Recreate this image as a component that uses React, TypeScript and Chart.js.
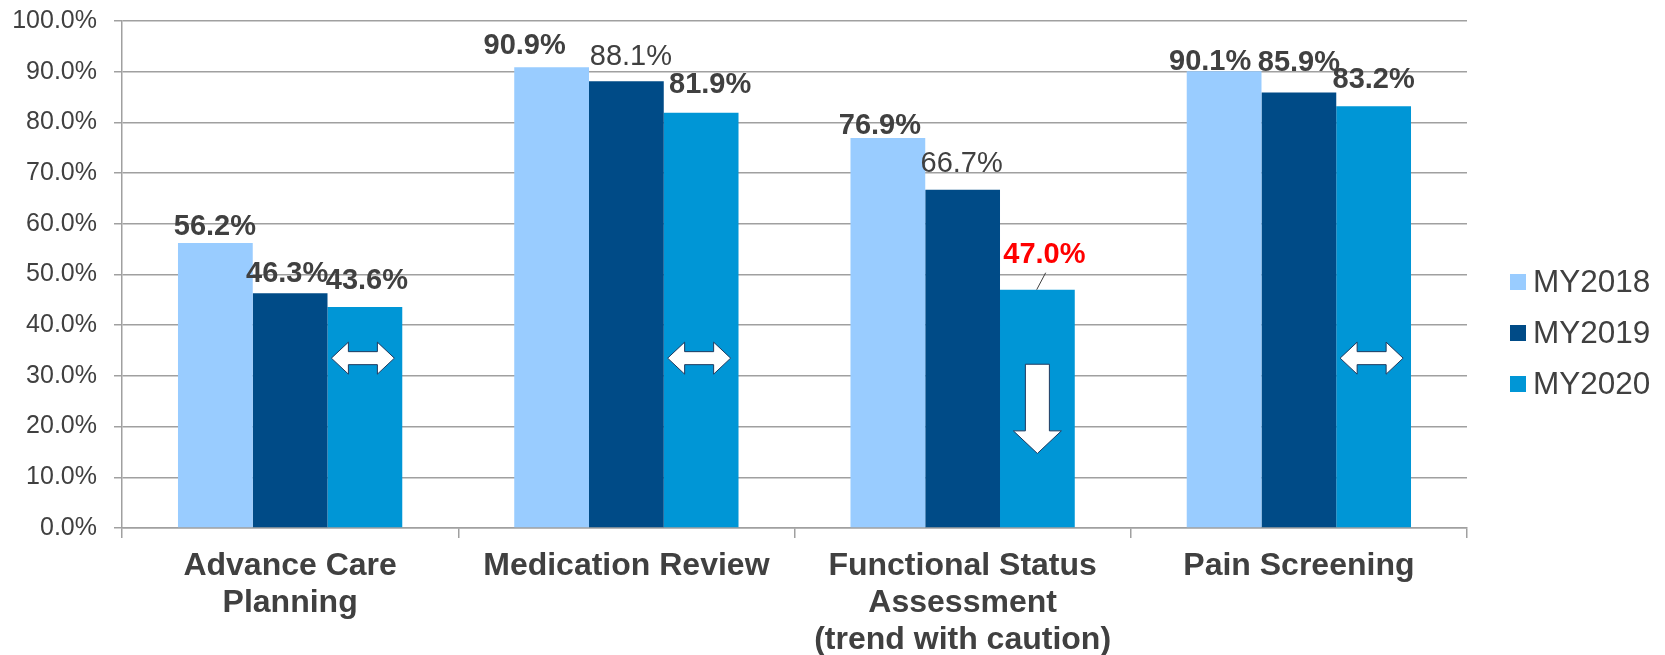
import React, { useEffect, useRef } from 'react';
import { Chart, registerables } from 'chart.js';

Chart.register(...registerables);

// ---- data ----
const categories: string[][] = [
  ['Advance Care', 'Planning'],
  ['Medication Review'],
  ['Functional Status', 'Assessment', '(trend with caution)'],
  ['Pain Screening'],
];
const seriesNames = ['MY2018', 'MY2019', 'MY2020'];
const my2018 = [56.2, 90.9, 76.9, 90.1];
const my2019 = [46.3, 88.1, 66.7, 85.9];
const my2020 = [43.6, 81.9, 47.0, 83.2];
// trend marker shown on the MY2020 bar of each category
const trendMarkers = ['both', 'both', 'down', 'both'];
const yMin = 0;
const yMax = 100;
const yStep = 10;

// ---- styles ----
const FONT = "'Liberation Sans', Arial, Helvetica, sans-serif";
const TEXT = '#404040';
const GRID = '#A0A0A0';
const COLORS = ['#99CCFF', '#004B87', '#0096D6'];
const ARROW_STROKE = '#1F3A5F';

// label placement tweaks (dx, dy above bar top) per dataset/category
const LABEL_OFFSETS: number[][][] = [
  [[-0.5, 8.4], [-27, 12.7], [-8, 4], [-14, 1]],
  [[-3, 11], [4.5, 16.7], [-1, 17.6], [0, 21.6]],
  [[2, 18.4], [9, 19.3], [7, 27], [0, 17.7]],
];
const LABEL_REGULAR: string[] = ['1-1', '1-2'];
const LABEL_RED: string[] = ['2-2'];
const LEADER: string[] = ['2-2'];

const labelsPlugin = {
  id: 'customLabels',
  afterDatasetsDraw(chart: any) {
    const ctx = chart.ctx;
    const y = chart.scales.y;
    ctx.save();
    // trend arrows on MY2020 bars
    const meta2 = chart.getDatasetMeta(2);
    meta2.data.forEach((bar: any, i: number) => {
      const kind = trendMarkers[i];
      ctx.beginPath();
      if (kind === 'both') {
        const cx = bar.x - 2;
        const cy = y.getPixelForValue(33.5);
        const W = 63, hl = 17, hh = 16, sh = 6.5;
        const l = cx - W / 2, r = cx + W / 2;
        ctx.moveTo(l, cy);
        ctx.lineTo(l + hl, cy - hh);
        ctx.lineTo(l + hl, cy - sh);
        ctx.lineTo(r - hl, cy - sh);
        ctx.lineTo(r - hl, cy - hh);
        ctx.lineTo(r, cy);
        ctx.lineTo(r - hl, cy + hh);
        ctx.lineTo(r - hl, cy + sh);
        ctx.lineTo(l + hl, cy + sh);
        ctx.lineTo(l + hl, cy + hh);
        ctx.closePath();
      } else if (kind === 'down') {
        const cx = bar.x;
        const top = y.getPixelForValue(32.3);
        const tip = y.getPixelForValue(14.7);
        const sw = 12, hw = 24, hl = 22.6;
        ctx.moveTo(cx - sw, top);
        ctx.lineTo(cx + sw, top);
        ctx.lineTo(cx + sw, tip - hl);
        ctx.lineTo(cx + hw, tip - hl);
        ctx.lineTo(cx, tip);
        ctx.lineTo(cx - hw, tip - hl);
        ctx.lineTo(cx - sw, tip - hl);
        ctx.closePath();
      }
      ctx.fillStyle = '#FFFFFF';
      ctx.fill();
      ctx.strokeStyle = ARROW_STROKE;
      ctx.lineWidth = 1;
      ctx.stroke();
    });

    // value labels
    ctx.textAlign = 'center';
    ctx.textBaseline = 'alphabetic';
    chart.data.datasets.forEach((ds: any, di: number) => {
      const meta = chart.getDatasetMeta(di);
      meta.data.forEach((bar: any, i: number) => {
        const key = di + '-' + i;
        const [dx, dy] = LABEL_OFFSETS[di][i];
        const bold = LABEL_REGULAR.indexOf(key) < 0;
        ctx.font = (bold ? 'bold ' : '') + '29px ' + FONT;
        ctx.fillStyle = LABEL_RED.indexOf(key) >= 0 ? '#FF0000' : TEXT;
        const v = ds.data[i] as number;
        ctx.fillText(v.toFixed(1) + '%', bar.x + dx, bar.y - dy);
        if (LEADER.indexOf(key) >= 0) {
          ctx.beginPath();
          ctx.moveTo(bar.x + dx + 1.3, bar.y - dy + 10);
          ctx.lineTo(bar.x - 0.7, bar.y);
          ctx.strokeStyle = TEXT;
          ctx.lineWidth = 1;
          ctx.stroke();
        }
      });
    });
    ctx.restore();
  },
  afterDraw(chart: any) {
    // legend
    const ctx = chart.ctx;
    ctx.save();
    const x0 = chart.chartArea.right + 43;
    const yc = [282, 333, 384];
    chart.data.datasets.forEach((ds: any, i: number) => {
      ctx.fillStyle = ds.backgroundColor;
      ctx.fillRect(x0, yc[i] - 8, 16, 16);
      ctx.fillStyle = TEXT;
      ctx.font = '31.5px ' + FONT;
      ctx.textAlign = 'left';
      ctx.textBaseline = 'middle';
      ctx.fillText(ds.label, x0 + 23, yc[i] + 1);
    });
    ctx.restore();
  },
};

export default function App() {
  const ref = useRef<HTMLCanvasElement | null>(null);
  useEffect(() => {
    if (!ref.current) return;
    const chart = new Chart(ref.current, {
      type: 'bar',
      data: {
        labels: categories,
        datasets: [my2018, my2019, my2020].map((d, i) => ({
          label: seriesNames[i],
          data: d,
          backgroundColor: COLORS[i],
          borderWidth: 0,
          categoryPercentage: 0.667,
          barPercentage: 1,
        })),
      },
      options: {
        animation: false,
        responsive: false,
        devicePixelRatio: 1,
        layout: { padding: { left: 0, top: 21, right: 198, bottom: 0 } },
        plugins: {
          legend: { display: false },
          tooltip: { enabled: false },
        },
        scales: {
          x: {
            grid: {
              display: true,
              drawOnChartArea: false,
              drawTicks: true,
              tickLength: 10,
              color: GRID,
              lineWidth: 1.5,
            },
            border: { color: GRID, width: 1.5 },
            ticks: {
              color: TEXT,
              padding: 10,
              maxRotation: 0,
              autoSkip: false,
              font: { family: FONT, size: 32, weight: 'bold', lineHeight: 37 / 32 },
            },
            afterFit: (s: any) => {
              s.height = 127;
              s.paddingLeft = 0;
              s.paddingRight = 0;
            },
          },
          y: {
            min: yMin,
            max: yMax,
            ticks: {
              stepSize: yStep,
              color: TEXT,
              padding: 17,
              font: { family: FONT, size: 25 },
              callback: (v: any) => Number(v).toFixed(1) + '%',
            },
            grid: { color: GRID, lineWidth: 1.5, tickLength: 8 },
            border: { color: GRID, width: 1.5 },
            afterFit: (s: any) => {
              s.width = 122;
              s.paddingTop = 0;
              s.paddingBottom = 0;
            },
          },
        },
      },
      plugins: [labelsPlugin],
    } as any);
    return () => chart.destroy();
  }, []);
  return (
    <div style={{ position: 'fixed', left: 0, top: 0, width: 1665, height: 655, background: '#fff' }}>
      <canvas ref={ref} width={1665} height={655} style={{ display: 'block' }} />
    </div>
  );
}
